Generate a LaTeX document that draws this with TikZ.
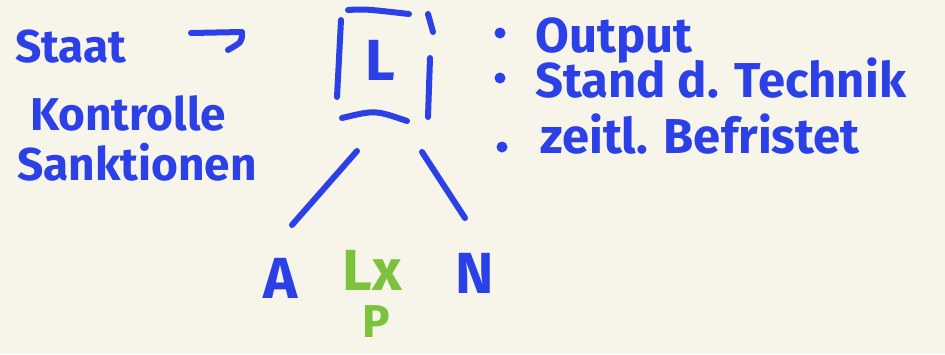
\documentclass[tikz,border=0pt]{standalone}
\usepackage{fontspec}
\setmainfont{Fira Sans}
\definecolor{bg}{HTML}{F7F4EA}
\definecolor{ink}{HTML}{2B40E6}
\definecolor{grn}{HTML}{7CC23C}
\begin{document}
\begin{tikzpicture}[x=1pt,y=-1pt,
  hand/.style={text=ink,font=\fontsize{46}{50}\selectfont\bfseries,inner sep=0pt,anchor=base west},
  list/.style={hand,font=\fontsize{49}{52}\selectfont\bfseries},
  big/.style={hand,font=\fontsize{58}{60}\selectfont\bfseries,anchor=base},
  biggreen/.style={big,text=grn},
  stroke/.style={draw=ink,line width=6pt,line cap=round,line join=round}]
\fill[bg] (0,0) rectangle (945,354);
\useasboundingbox (0,0) rectangle (945,354);
% left texts
\node[hand] (staat) at (15,62) {Staat};
\coordinate (arrS) at (191,33);
\coordinate (arrE) at (242,32);
\coordinate (arrH) at (228,50);
\draw[stroke] (arrS) -- (arrE) .. controls (242,42) .. (arrH);
\node[hand] (kontrolle) at (30,130) {Kontrolle};
\node[hand] (sanktionen) at (17,180) {Sanktionen};
% box with L
\node[big] (L) at (380,80) {L};
\coordinate (bt1) at (348,10); \coordinate (bt2) at (409,14);
\coordinate (bl1) at (341,20); \coordinate (bl2) at (337,97);
\coordinate (br1) at (428,14); \coordinate (br2) at (433,32);
\coordinate (br3) at (430,58); \coordinate (br4) at (428,117);
\coordinate (bb1) at (342,118); \coordinate (bb2) at (407,121);
\draw[stroke] (bt1) .. controls (365,9) .. (bt2);
\draw[stroke] (bl1) -- (bl2);
\draw[stroke] (br1) -- (br2);
\draw[stroke] (br3) -- (br4);
\draw[stroke] (bb1) .. controls (375,110) .. (bb2);
% tree
\node[big] (A) at (281,298) {A};
\node[biggreen] (Lx) at (372,290) {Lx};
\node[big] (N) at (475,293) {N};
\node[biggreen,font=\fontsize{46}{48}\selectfont\bfseries] (P) at (376,337) {P};
\coordinate (el1) at (357,151); \coordinate (el2) at (292,225);
\coordinate (er1) at (422,152); \coordinate (er2) at (465,218);
\draw[stroke] (el1) -- (el2);
\draw[stroke] (er1) -- (er2);
% bullets
\fill[ink] (500,33) circle (5.5);
\fill[ink] (500,78) circle (5.5);
\fill[ink] (502,147) circle (5.5);
\node[list] (output) at (535,52) {Output};
\node[list] (stand) at (535,97) {Stand d. Technik};
\node[list] (zeitl) at (540,153) {zeitl. Befristet};
\end{tikzpicture}
\end{document}
